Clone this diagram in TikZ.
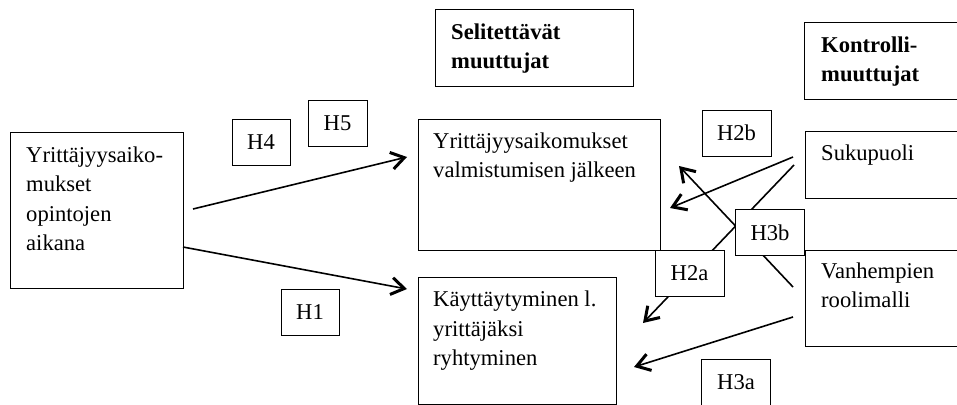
\documentclass[tikz,border=0pt]{standalone}
\usepackage{fontspec}
\setmainfont{Liberation Serif}
\usetikzlibrary{positioning}
\usetikzlibrary{arrows.meta}
\tikzset{>={Straight Barb[length=13pt,width=17pt,line width=3pt]}}
\tikzset{box/.style={draw,line width=1pt,fill=white,anchor=north west,inner sep=0pt,outer sep=0pt}}
\tikzset{hyp/.style={draw,line width=1pt,fill=white,inner sep=0pt,outer sep=0pt,minimum width=69pt,minimum height=46pt,font=\fontsize{22.6}{29.3}\selectfont}}
\tikzset{txt/.style={inner sep=0pt,align=left,font=\fontsize{22.6}{29.3}\selectfont}}
\tikzset{arr/.style={->,line width=1.6pt}}

\begin{document}
\begin{tikzpicture}[x=1pt,y=-1pt]
\useasboundingbox (0,0) rectangle (957,404);
% boxes
\node[box,minimum width=173pt,minimum height=156pt] (L) at (10,132) {};
\node[box,minimum width=198pt,minimum height=76pt] (S) at (435,10) {};
\node[box,minimum width=242pt,minimum height=131pt] (Y) at (418,119) {};
\node[box,minimum width=198pt,minimum height=127pt] (K) at (418,277) {};
\node[box,minimum width=170pt,minimum height=76pt] (C) at (804,23) {};
\node[box,minimum width=170pt,minimum height=67pt] (G) at (805,131) {};
\node[box,minimum width=170pt,minimum height=96pt] (V) at (805,250) {};

\node[txt,below right=14.6pt and 16pt of L.north west] (Ltx) {Yrittäjyysaiko-\\mukset\\opintojen\\aikana};
\node[txt,below right=13.7pt and 16pt of S.north west] (Stx) {\bfseries Selitettävät\\\bfseries muuttujat};
\node[txt,below right=13.8pt and 15pt of Y.north west] (Ytx) {Yrittäjyysaikomukset\\valmistumisen jälkeen};
\node[txt,below right=14pt and 15pt of K.north west] (Ktx) {Käyttäytyminen l.\\yrittäjäksi\\ryhtyminen};
\node[txt,below right=13.7pt and 17pt of C.north west] (Ctx) {\bfseries Kontrolli-\\\bfseries muuttujat};
\node[txt,below right=13.6pt and 16pt of G.north west] (Gtx) {Sukupuoli};
\node[txt,below right=12.6pt and 16pt of V.north west] (Vtx) {Vanhempien\\roolimalli};

% arrows
\coordinate (s4) at (193,209);
\coordinate (e4) at (407,157);
\coordinate (s1) at (183,247);
\coordinate (e1) at (407,289);
\coordinate (s2b) at (793,157);
\coordinate (e2b) at (670,208);
\coordinate (s3b) at (793,287);
\coordinate (e3b) at (679,166);
\coordinate (s2a) at (794,165);
\coordinate (e2a) at (643,323);
\coordinate (s3a) at (793,317);
\coordinate (e3a) at (634,367);
\draw[arr] (s4) -- (e4);
\draw[arr] (s1) -- (e1);
\draw[arr] (s2b) -- (e2b);
\draw[arr] (s3b) -- (e3b);
\draw[arr] (s2a) -- (e2a);
\draw[arr] (s3a) -- (e3a);

% hypotheses
\node[hyp,minimum width=58pt] (h4) at (261,142.5) {H4};
\node[hyp,minimum width=59pt] (h5) at (337.5,123) {H5};
\node[hyp,minimum width=58pt] (h1) at (310,312) {H1};
\node[hyp] (h2b) at (736.5,133) {H2b};
\node[hyp] (h3b) at (770,232.5) {H3b};
\node[hyp] (h2a) at (689.5,273) {H2a};
\node[hyp] (h3a) at (736,382) {H3a};
\end{tikzpicture}
\end{document}
